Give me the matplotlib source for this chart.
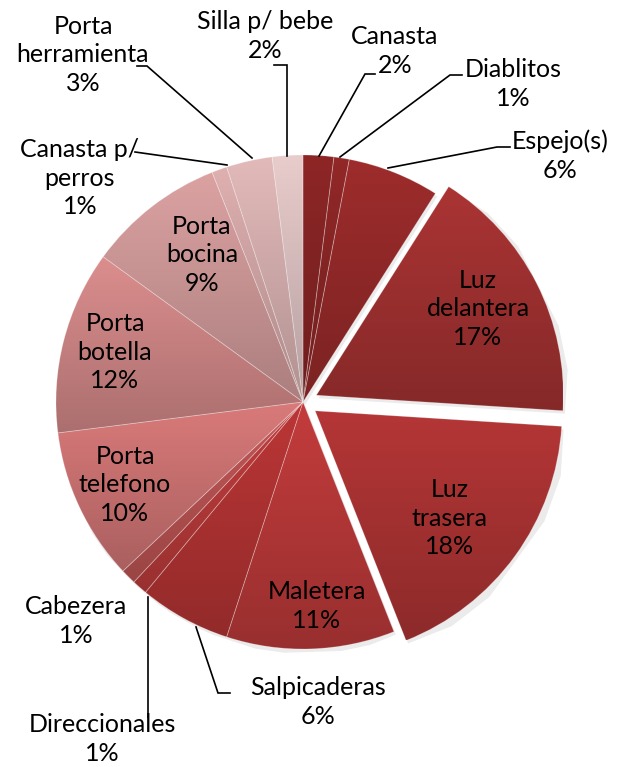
import matplotlib.pyplot as plt
import numpy as np
from matplotlib.colors import to_rgb

# slices in drawing order: clockwise from 12 o'clock
labels = ["Canasta", "Diablitos", "Espejo(s)", "Luz\ndelantera", "Luz\ntrasera",
          "Maletera", "Salpicaderas", "Direccionales", "Cabezera", "Porta\ntelefono",
          "Porta\nbotella", "Porta\nbocina", "Canasta p/\nperros", "Porta\nherramienta",
          "Silla p/ bebe"]
values = [2, 1, 6, 17, 18, 11, 6, 1, 1, 10, 12, 9, 1, 3, 2]
colors = ["#8e2626", "#922828", "#9e2c2c", "#ab3434", "#b53636",
          "#c43c3c", "#bc3636", "#c43e3e", "#c65858", "#da7a7a",
          "#dc8e8e", "#dca2a2", "#dfb0b0", "#e3baba", "#e9cccc"]
# offset of pulled-out slices, in pixels
explode = [0, 0, 0, 15, 15, 0, 0, 0, 0, 0, 0, 0, 0, 0, 0]

# label positions (pixels from top-left) and leader lines
label_pos = [(395, 51), (513, 84), (560, 156), (478, 309), (450, 518),
             (317, 606), (318, 702), (102, 739), (76, 621), (125, 485),
             (115, 352), (202, 255), (80, 178), (83, 55), (265, 36)]
leaders = {
    0: [(319, 156), (365, 74), (375, 74)],
    1: [(340, 157), (450, 75), (462, 75)],
    2: [(388, 168), (497, 147), (510, 147)],
    6: [(196, 627), (218, 693), (230, 693)],
    7: [(148, 597), (148, 717)],
    12: [(227, 165), (135, 152)],
    13: [(252, 158), (147, 66), (137, 66)],
    14: [(287, 156), (287, 65), (274, 65)],
}

W, H = 626, 767
fig = plt.figure(figsize=(W / 100, H / 100), dpi=100)
ax = fig.add_axes([0, 0, 1, 1])
ax.set_xlim(0, W)
ax.set_ylim(H, 0)
ax.axis("off")

cx, cy, R = 303, 402, 247

# y axis is inverted, so counterclockwise in data means clockwise on screen
wedges, _ = ax.pie(values, radius=R, center=(cx, cy), startangle=-90,
                   counterclock=True, explode=explode, frame=True,
                   wedgeprops=dict(facecolor="none", edgecolor=(1, 1, 1, 0.25),
                                   linewidth=0.6, zorder=3))

grad = np.linspace(0, 1, 256)[:, None]
for w, c in zip(wedges, colors):
    top = np.array(to_rgb(c))
    bot = top * 0.78
    img = top[None, None, :] * (1 - grad[:, :, None]) + bot[None, None, :] * grad[:, :, None]
    bb = w.get_path().get_extents()
    im = ax.imshow(img, extent=(bb.x0, bb.x1, bb.y1, bb.y0), origin="upper",
                   aspect="auto", zorder=2, interpolation="bilinear")
    im.set_clip_path(w)
    # soft shadow
    sh = plt.Polygon(w.get_path().vertices + np.array([2, 3]), closed=True,
                     facecolor="#000000", alpha=0.08, edgecolor="none", zorder=1)
    ax.add_patch(sh)

for lab, v, (x, y) in zip(labels, values, label_pos):
    ax.text(x, y, f"{lab}\n{v}%", ha="center", va="center", fontsize=18,
            family="Lato", linespacing=1.3, color="black", zorder=5)

for pts in leaders.values():
    xs, ys = zip(*pts)
    ax.plot(xs, ys, color="black", lw=1.2, zorder=4, solid_joinstyle="miter")

ax.set_xlim(0, W)
ax.set_ylim(H, 0)
fig.savefig("out.png", dpi=100, facecolor="white")
